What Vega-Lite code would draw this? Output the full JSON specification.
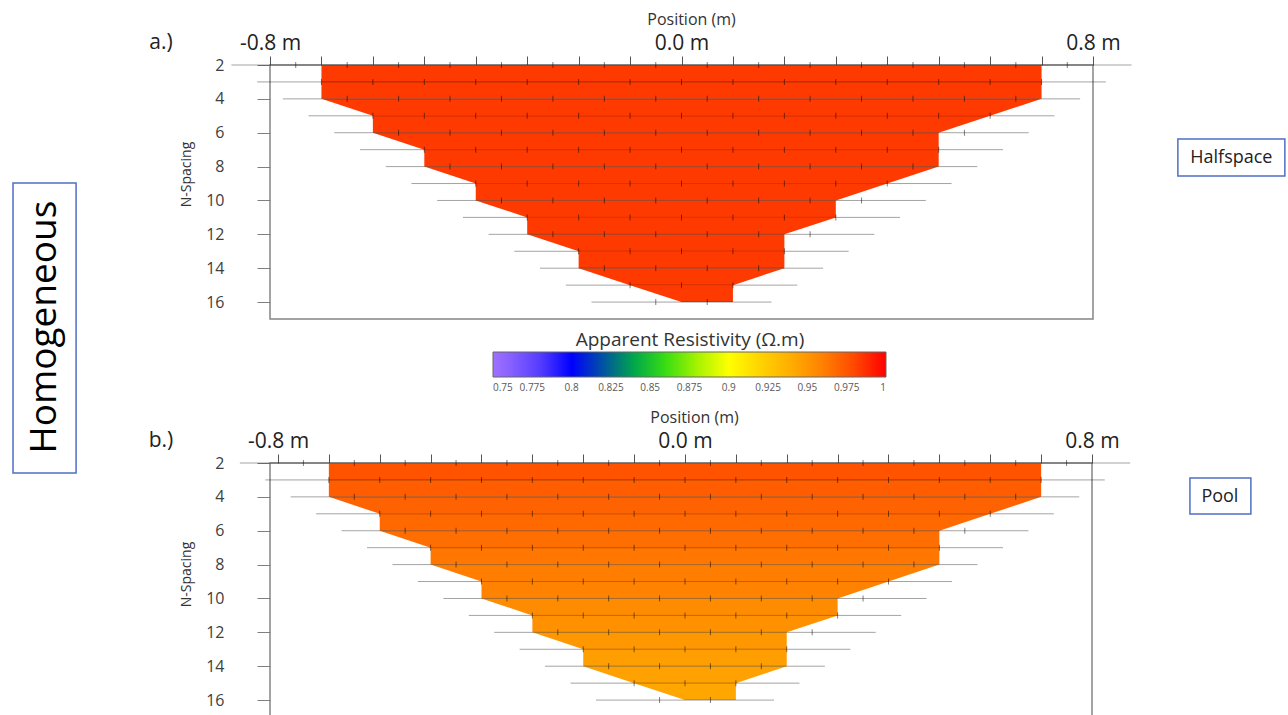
{
  "$schema": "https://vega.github.io/schema/vega-lite/v6.json",
  "description": "Dipole-dipole pseudosections of apparent resistivity for a homogeneous halfspace (a) and a pool (b).",
  "background": "white",
  "padding": {"left": 11, "top": 10, "right": 2, "bottom": 0},
  "config": {
    "font": "Open Sans",
    "view": {"stroke": "#858585", "strokeWidth": 1.5},
    "axis": {"grid": false, "titleFontWeight": "normal", "labelOverlap": false},
    "legend": {"titleFontWeight": "normal"}
  },
  "bounds": "flush",
  "spacing": 144,
  "datasets": {
    "bands": [
      {"band": 2, "n": 2, "x": -0.7, "xe": 0.7, "va": 0.984, "vb": 0.977},
      {"band": 2, "n": 3, "x": -0.7, "xe": 0.7, "va": 0.984, "vb": 0.977},
      {"band": 3, "n": 3, "x": -0.7, "xe": 0.7, "va": 0.984, "vb": 0.974},
      {"band": 3, "n": 4, "x": -0.7, "xe": 0.7, "va": 0.984, "vb": 0.974},
      {"band": 4, "n": 4, "x": -0.7, "xe": 0.7, "va": 0.984, "vb": 0.972},
      {"band": 4, "n": 5, "x": -0.6, "xe": 0.6, "va": 0.984, "vb": 0.972},
      {"band": 5, "n": 5, "x": -0.6, "xe": 0.6, "va": 0.984, "vb": 0.969},
      {"band": 5, "n": 6, "x": -0.6, "xe": 0.5, "va": 0.984, "vb": 0.969},
      {"band": 6, "n": 6, "x": -0.6, "xe": 0.5, "va": 0.984, "vb": 0.967},
      {"band": 6, "n": 7, "x": -0.5, "xe": 0.5, "va": 0.984, "vb": 0.967},
      {"band": 7, "n": 7, "x": -0.5, "xe": 0.5, "va": 0.984, "vb": 0.964},
      {"band": 7, "n": 8, "x": -0.5, "xe": 0.5, "va": 0.984, "vb": 0.964},
      {"band": 8, "n": 8, "x": -0.5, "xe": 0.5, "va": 0.984, "vb": 0.961},
      {"band": 8, "n": 9, "x": -0.4, "xe": 0.4, "va": 0.984, "vb": 0.961},
      {"band": 9, "n": 9, "x": -0.4, "xe": 0.4, "va": 0.984, "vb": 0.959},
      {"band": 9, "n": 10, "x": -0.4, "xe": 0.3, "va": 0.984, "vb": 0.959},
      {"band": 10, "n": 10, "x": -0.4, "xe": 0.3, "va": 0.984, "vb": 0.956},
      {"band": 10, "n": 11, "x": -0.3, "xe": 0.3, "va": 0.984, "vb": 0.956},
      {"band": 11, "n": 11, "x": -0.3, "xe": 0.3, "va": 0.984, "vb": 0.954},
      {"band": 11, "n": 12, "x": -0.3, "xe": 0.2, "va": 0.984, "vb": 0.954},
      {"band": 12, "n": 12, "x": -0.3, "xe": 0.2, "va": 0.984, "vb": 0.951},
      {"band": 12, "n": 13, "x": -0.2, "xe": 0.2, "va": 0.984, "vb": 0.951},
      {"band": 13, "n": 13, "x": -0.2, "xe": 0.2, "va": 0.984, "vb": 0.948},
      {"band": 13, "n": 14, "x": -0.2, "xe": 0.2, "va": 0.984, "vb": 0.948},
      {"band": 14, "n": 14, "x": -0.2, "xe": 0.2, "va": 0.984, "vb": 0.946},
      {"band": 14, "n": 15, "x": -0.1, "xe": 0.1, "va": 0.984, "vb": 0.946},
      {"band": 15, "n": 15, "x": -0.1, "xe": 0.1, "va": 0.984, "vb": 0.943},
      {"band": 15, "n": 16, "x": 0, "xe": 0.1, "va": 0.984, "vb": 0.943}
    ],
    "rows": [
      {"n": 2, "x": -0.875, "xe": 0.875},
      {"n": 3, "x": -0.825, "xe": 0.825},
      {"n": 4, "x": -0.775, "xe": 0.775},
      {"n": 5, "x": -0.725, "xe": 0.725},
      {"n": 6, "x": -0.675, "xe": 0.675},
      {"n": 7, "x": -0.625, "xe": 0.625},
      {"n": 8, "x": -0.575, "xe": 0.575},
      {"n": 9, "x": -0.525, "xe": 0.525},
      {"n": 10, "x": -0.475, "xe": 0.475},
      {"n": 11, "x": -0.425, "xe": 0.425},
      {"n": 12, "x": -0.375, "xe": 0.375},
      {"n": 13, "x": -0.325, "xe": 0.325},
      {"n": 14, "x": -0.275, "xe": 0.275},
      {"n": 15, "x": -0.225, "xe": 0.225},
      {"n": 16, "x": -0.175, "xe": 0.175}
    ],
    "pts": [
      {"n": 2, "x": -0.75}, {"n": 2, "x": -0.65}, {"n": 2, "x": -0.55}, {"n": 2, "x": -0.45}, {"n": 2, "x": -0.35}, {"n": 2, "x": -0.25}, {"n": 2, "x": -0.15}, {"n": 2, "x": -0.05},
      {"n": 2, "x": 0.05}, {"n": 2, "x": 0.15}, {"n": 2, "x": 0.25}, {"n": 2, "x": 0.35}, {"n": 2, "x": 0.45}, {"n": 2, "x": 0.55}, {"n": 2, "x": 0.65}, {"n": 2, "x": 0.75},
      {"n": 3, "x": -0.7}, {"n": 3, "x": -0.6}, {"n": 3, "x": -0.5}, {"n": 3, "x": -0.4}, {"n": 3, "x": -0.3}, {"n": 3, "x": -0.2}, {"n": 3, "x": -0.1}, {"n": 3, "x": 0},
      {"n": 3, "x": 0.1}, {"n": 3, "x": 0.2}, {"n": 3, "x": 0.3}, {"n": 3, "x": 0.4}, {"n": 3, "x": 0.5}, {"n": 3, "x": 0.6}, {"n": 3, "x": 0.7},
      {"n": 4, "x": -0.65}, {"n": 4, "x": -0.55}, {"n": 4, "x": -0.45}, {"n": 4, "x": -0.35}, {"n": 4, "x": -0.25}, {"n": 4, "x": -0.15}, {"n": 4, "x": -0.05},
      {"n": 4, "x": 0.05}, {"n": 4, "x": 0.15}, {"n": 4, "x": 0.25}, {"n": 4, "x": 0.35}, {"n": 4, "x": 0.45}, {"n": 4, "x": 0.55}, {"n": 4, "x": 0.65},
      {"n": 5, "x": -0.6}, {"n": 5, "x": -0.5}, {"n": 5, "x": -0.4}, {"n": 5, "x": -0.3}, {"n": 5, "x": -0.2}, {"n": 5, "x": -0.1}, {"n": 5, "x": 0},
      {"n": 5, "x": 0.1}, {"n": 5, "x": 0.2}, {"n": 5, "x": 0.3}, {"n": 5, "x": 0.4}, {"n": 5, "x": 0.5}, {"n": 5, "x": 0.6},
      {"n": 6, "x": -0.55}, {"n": 6, "x": -0.45}, {"n": 6, "x": -0.35}, {"n": 6, "x": -0.25}, {"n": 6, "x": -0.15}, {"n": 6, "x": -0.05},
      {"n": 6, "x": 0.05}, {"n": 6, "x": 0.15}, {"n": 6, "x": 0.25}, {"n": 6, "x": 0.35}, {"n": 6, "x": 0.45}, {"n": 6, "x": 0.55},
      {"n": 7, "x": -0.5}, {"n": 7, "x": -0.4}, {"n": 7, "x": -0.3}, {"n": 7, "x": -0.2}, {"n": 7, "x": -0.1}, {"n": 7, "x": 0},
      {"n": 7, "x": 0.1}, {"n": 7, "x": 0.2}, {"n": 7, "x": 0.3}, {"n": 7, "x": 0.4}, {"n": 7, "x": 0.5},
      {"n": 8, "x": -0.45}, {"n": 8, "x": -0.35}, {"n": 8, "x": -0.25}, {"n": 8, "x": -0.15}, {"n": 8, "x": -0.05},
      {"n": 8, "x": 0.05}, {"n": 8, "x": 0.15}, {"n": 8, "x": 0.25}, {"n": 8, "x": 0.35}, {"n": 8, "x": 0.45},
      {"n": 9, "x": -0.4}, {"n": 9, "x": -0.3}, {"n": 9, "x": -0.2}, {"n": 9, "x": -0.1}, {"n": 9, "x": 0},
      {"n": 9, "x": 0.1}, {"n": 9, "x": 0.2}, {"n": 9, "x": 0.3}, {"n": 9, "x": 0.4},
      {"n": 10, "x": -0.35}, {"n": 10, "x": -0.25}, {"n": 10, "x": -0.15}, {"n": 10, "x": -0.05},
      {"n": 10, "x": 0.05}, {"n": 10, "x": 0.15}, {"n": 10, "x": 0.25}, {"n": 10, "x": 0.35},
      {"n": 11, "x": -0.3}, {"n": 11, "x": -0.2}, {"n": 11, "x": -0.1}, {"n": 11, "x": 0}, {"n": 11, "x": 0.1}, {"n": 11, "x": 0.2}, {"n": 11, "x": 0.3},
      {"n": 12, "x": -0.25}, {"n": 12, "x": -0.15}, {"n": 12, "x": -0.05}, {"n": 12, "x": 0.05}, {"n": 12, "x": 0.15}, {"n": 12, "x": 0.25},
      {"n": 13, "x": -0.2}, {"n": 13, "x": -0.1}, {"n": 13, "x": 0}, {"n": 13, "x": 0.1}, {"n": 13, "x": 0.2},
      {"n": 14, "x": -0.15}, {"n": 14, "x": -0.05}, {"n": 14, "x": 0.05}, {"n": 14, "x": 0.15},
      {"n": 15, "x": -0.1}, {"n": 15, "x": 0}, {"n": 15, "x": 0.1},
      {"n": 16, "x": -0.05}, {"n": 16, "x": 0.05}
    ]
  },
  "vconcat": [
    {
      "width": 823,
      "height": 254,
      "encoding": {
        "y": {
          "field": "n", "type": "quantitative",
          "scale": {"domain": [2, 17], "reverse": true, "nice": false, "zero": false},
          "axis": {
            "values": [2, 4, 6, 8, 10, 12, 14, 16],
            "title": "N-Spacing", "titleFontSize": 14, "titleColor": "#333333",
            "titleAngle": 270, "titleX": -80, "titleY": 109, "titleAlign": "center", "titleBaseline": "alphabetic",
            "labelFontSize": 16, "labelColor": "#404040", "labelPadding": 33, "labelFlush": false, "labelOverlap": false, "labelSeparation": 0,
            "tickSize": 13, "tickColor": "#7f7f7f", "domain": false
          }
        },
        "x": {
          "field": "x", "type": "quantitative", "stack": null,
          "scale": {"domain": [-0.8, 0.8], "nice": false, "zero": false},
          "axis": {
            "orient": "top",
            "values": [-0.8, -0.7, -0.6, -0.5, -0.4, -0.3, -0.2, -0.1, 0, 0.1, 0.2, 0.3, 0.4, 0.5, 0.6, 0.7, 0.8],
            "labelExpr": "datum.value < -0.75 ? '-0.8 m' : datum.value > 0.75 ? '0.8 m' : abs(datum.value) < 0.01 ? '0.0 m' : ''",
            "title": "Position (m)", "titleFontSize": 16, "titleColor": "#333333", "titlePadding": 5, "titleX": 421,
            "labelFontSize": 21, "labelColor": "#222222", "labelPadding": 3, "labelFlush": false, "labelOverlap": false,
            "tickSize": 9, "tickColor": "#555555", "domain": false
          }
        }
      },
      "layer": [
        {
          "data": {"name": "bands"},
          "mark": {"type": "area", "orient": "horizontal", "interpolate": "linear"},
          "encoding": {
            "x2": {"field": "xe"},
            "detail": {"field": "band", "type": "nominal"},
            "color": {
              "field": "va", "type": "quantitative",
              "scale": {
                "domain": [0.75, 0.775, 0.8, 0.825, 0.85, 0.875, 0.9, 0.925, 0.95, 0.975, 1],
                "range": ["#a070ff", "#6a4cff", "#0000ff", "#00688c", "#00d21e", "#8ef000", "#ffff00", "#ffc800", "#ff9a00", "#ff5a00", "#ff0000"],
                "interpolate": "rgb"
              },
              "legend": {
                "orient": "none", "legendX": 223, "legendY": 266, "direction": "horizontal",
                "gradientLength": 393, "gradientThickness": 25, "gradientStrokeColor": "#666666", "gradientStrokeWidth": 1,
                "title": "Apparent Resistivity (Ω.m)", "titleFontSize": 19, "titleColor": "#333333", "titleAnchor": "middle", "titlePadding": 2, "titleLimit": 0,
                "values": [0.75, 0.775, 0.8, 0.825, 0.85, 0.875, 0.9, 0.925, 0.95, 0.975, 1],
                "labelExpr": "format(datum.value, '~g')",
                "labelFontSize": 10, "labelColor": "#595959", "labelAlign": "center", "labelOverlap": false, "labelOffset": 6
              }
            }
          }
        },
        {
          "data": {"name": "rows"},
          "mark": {"type": "rule", "color": "#000000", "opacity": 0.36, "strokeWidth": 1},
          "encoding": {"x2": {"field": "xe"}}
        },
        {
          "data": {"name": "pts"},
          "mark": {"type": "tick", "orient": "vertical", "color": "#000000", "opacity": 0.5, "size": 6, "thickness": 1},
          "encoding": {}
        },
        {
          "data": {"values": [
            {"x": -1.2996, "xe": -1.177, "n": 8.97, "ne": 26.1},
            {"x": 0.965, "xe": 1.173, "n": 6.37, "ne": 8.56}
          ]},
          "mark": {"type": "rect", "fill": "white", "stroke": "#4f6fc4", "strokeWidth": 1.5},
          "encoding": {"x2": {"field": "xe"}, "y2": {"field": "ne"}}
        },
        {
          "data": {"values": [{"label": "Homogeneous", "x": -1.238, "n": 17.48}]},
          "mark": {"type": "text", "angle": 270, "fontSize": 37, "color": "#000000", "align": "center", "baseline": "middle"},
          "encoding": {"text": {"field": "label"}}
        },
        {
          "data": {"values": [{"label": "Halfspace", "x": 1.069, "n": 7.49}]},
          "mark": {"type": "text", "fontSize": 18, "color": "#222222", "align": "center", "baseline": "middle"},
          "encoding": {"text": {"field": "label"}}
        },
        {
          "data": {"values": [{"label": "a.)", "x": -1.012, "n": 0.7}]},
          "mark": {"type": "text", "fontSize": 21, "color": "#222222", "align": "center", "baseline": "middle"},
          "encoding": {"text": {"field": "label"}}
        }
      ]
    },
    {
      "width": 822,
      "height": 253,
      "encoding": {
        "y": {
          "field": "n", "type": "quantitative",
          "scale": {"domain": [2, 16.94], "reverse": true, "nice": false, "zero": false},
          "axis": {
            "values": [2, 4, 6, 8, 10, 12, 14, 16],
            "title": "N-Spacing", "titleFontSize": 14, "titleColor": "#333333",
            "titleAngle": 270, "titleX": -80, "titleY": 111, "titleAlign": "center", "titleBaseline": "alphabetic",
            "labelFontSize": 16, "labelColor": "#404040", "labelPadding": 33, "labelFlush": false, "labelOverlap": false, "labelSeparation": 0,
            "tickSize": 13, "tickColor": "#7f7f7f", "domain": false
          }
        },
        "x": {
          "field": "x", "type": "quantitative", "stack": null,
          "scale": {"domain": [-0.8157, 0.8], "nice": false, "zero": false},
          "axis": {
            "orient": "top",
            "values": [-0.8, -0.7, -0.6, -0.5, -0.4, -0.3, -0.2, -0.1, 0, 0.1, 0.2, 0.3, 0.4, 0.5, 0.6, 0.7, 0.8],
            "labelExpr": "datum.value < -0.75 ? '-0.8 m' : datum.value > 0.75 ? '0.8 m' : abs(datum.value) < 0.01 ? '0.0 m' : ''",
            "title": "Position (m)", "titleFontSize": 16, "titleColor": "#333333", "titlePadding": 5, "titleX": 424,
            "labelFontSize": 21, "labelColor": "#222222", "labelPadding": 3, "labelFlush": false, "labelOverlap": false,
            "tickSize": 9, "tickColor": "#555555", "domain": false
          }
        }
      },
      "layer": [
        {
          "data": {"name": "bands"},
          "mark": {"type": "area", "orient": "horizontal", "interpolate": "linear"},
          "encoding": {
            "x2": {"field": "xe"},
            "detail": {"field": "band", "type": "nominal"},
            "color": {
              "field": "vb", "type": "quantitative",
              "scale": {
                "domain": [0.75, 0.775, 0.8, 0.825, 0.85, 0.875, 0.9, 0.925, 0.95, 0.975, 1],
                "range": ["#a070ff", "#6a4cff", "#0000ff", "#00688c", "#00d21e", "#8ef000", "#ffff00", "#ffc800", "#ff9a00", "#ff5a00", "#ff0000"],
                "interpolate": "rgb"
              },
              "legend": null
            }
          }
        },
        {
          "data": {"name": "rows"},
          "mark": {"type": "rule", "color": "#000000", "opacity": 0.36, "strokeWidth": 1},
          "encoding": {"x2": {"field": "xe"}}
        },
        {
          "data": {"name": "pts"},
          "mark": {"type": "tick", "orient": "vertical", "color": "#000000", "opacity": 0.5, "size": 6, "thickness": 1},
          "encoding": {}
        },
        {
          "data": {"values": [{"x": 0.9925, "xe": 1.1123, "n": 2.89, "ne": 5.01}]},
          "mark": {"type": "rect", "fill": "white", "stroke": "#4f6fc4", "strokeWidth": 1.5},
          "encoding": {"x2": {"field": "xe"}, "y2": {"field": "ne"}}
        },
        {
          "data": {"values": [{"label": "Pool", "x": 1.0514, "n": 3.98}]},
          "mark": {"type": "text", "fontSize": 18, "color": "#222222", "align": "center", "baseline": "middle"},
          "encoding": {"text": {"field": "label"}}
        },
        {
          "data": {"values": [{"label": "b.)", "x": -1.03, "n": 0.7}]},
          "mark": {"type": "text", "fontSize": 21, "color": "#222222", "align": "center", "baseline": "middle"},
          "encoding": {"text": {"field": "label"}}
        }
      ]
    }
  ]
}
